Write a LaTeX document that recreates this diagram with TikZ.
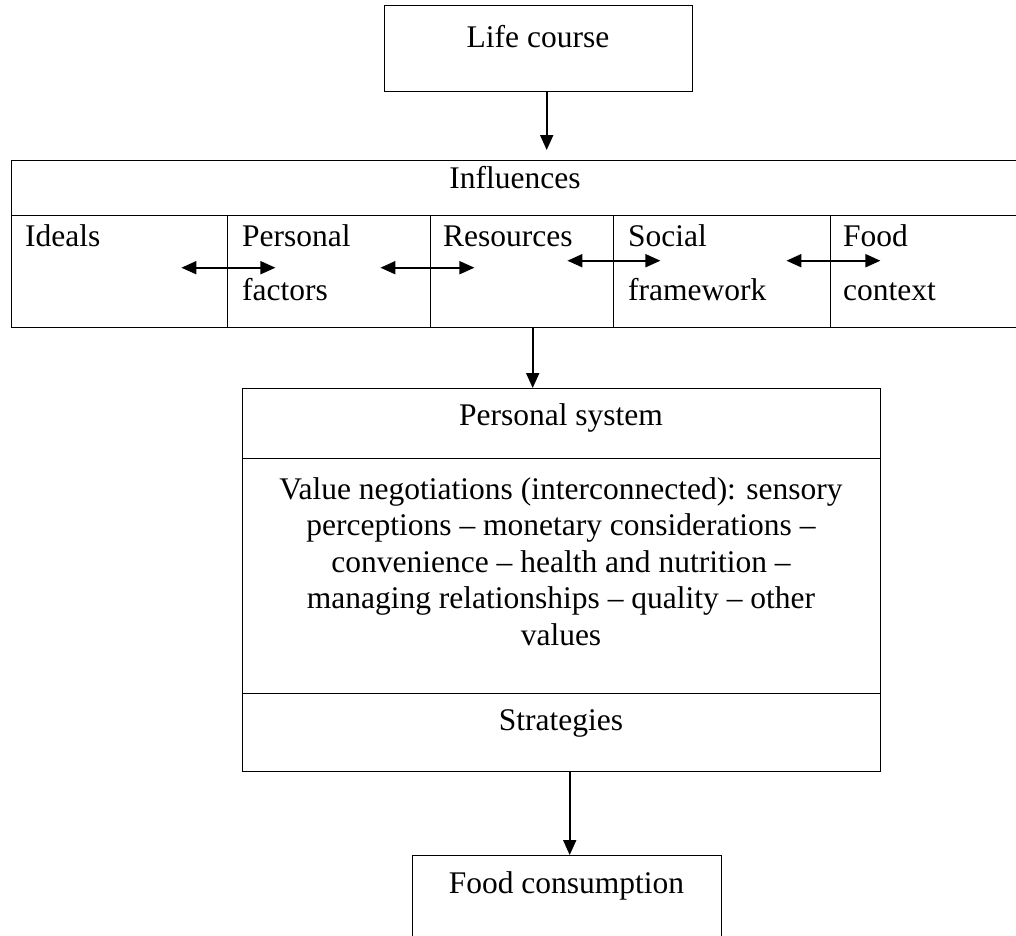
\documentclass[tikz,border=0pt]{standalone}
\usepackage{fontspec}
\setmainfont{Liberation Serif}
\usetikzlibrary{arrows.meta,calc}
\begin{document}
\begin{tikzpicture}[x=1pt,y=-1pt,
  box/.style={draw,line width=1.4pt,rectangle,inner sep=0pt,anchor=north west},
  lbl/.style={inner sep=0pt,font=\fontsize{31.5}{36.5}\selectfont},
  arr/.style={line width=1.9pt,-{Triangle[length=15pt,width=13pt]}},
  darr/.style={line width=1.9pt,{Triangle[length=15pt,width=13pt]}-{Triangle[length=15pt,width=13pt]}}]
\useasboundingbox[fill=white] (0,0) rectangle (1016,935);

% Life course
\node[box,minimum width=308pt,minimum height=86pt] (life) at (384,5) {};
\node[lbl,anchor=base] (tlife) at (538,47) {Life course};

% Influences
\node[box,minimum width=1010pt,minimum height=55pt] (infhead) at (11,160) {};
\node[box,minimum width=216pt,minimum height=112pt] (c1) at (11,215) {};
\node[box,minimum width=203pt,minimum height=112pt] (c2) at (227,215) {};
\node[box,minimum width=183pt,minimum height=112pt] (c3) at (430,215) {};
\node[box,minimum width=217pt,minimum height=112pt] (c4) at (613,215) {};
\node[box,minimum width=190pt,minimum height=112pt] (c5) at (830,215) {};
\node[lbl,anchor=base] (tinf) at (515,188) {Influences};
\node[lbl,anchor=base west] (tideals) at (25,246) {Ideals};
\node[lbl,anchor=base west] (tpers) at (242,246) {Personal};
\node[lbl,anchor=base west] (tfact) at (242,300) {factors};
\node[lbl,anchor=base west] (tres) at (443,246) {Resources};
\node[lbl,anchor=base west] (tsoc) at (628,246) {Social};
\node[lbl,anchor=base west] (tframe) at (628,300) {framework};
\node[lbl,anchor=base west] (tfood) at (843,246) {Food};
\node[lbl,anchor=base west] (tctx) at (843,300) {context};

% Personal system
\node[box,minimum width=638pt,minimum height=70pt] (ps1) at (242,388) {};
\node[box,minimum width=638pt,minimum height=235pt] (ps2) at (242,458) {};
\node[box,minimum width=638pt,minimum height=78pt] (ps3) at (242,693) {};
\node[lbl,anchor=base] (tps) at (561,425) {Personal system};
\node[lbl,anchor=base,align=center] (tval) at (561,645) {Value negotiations (interconnected): sensory\\
perceptions \textendash{} monetary considerations \textendash\\
convenience \textendash{} health and nutrition \textendash\\
managing relationships \textendash{} quality \textendash{} other\\
values};
\node[lbl,anchor=base] (tstr) at (561,730) {Strategies};

% Food consumption
\node[box,minimum width=309pt,minimum height=100pt] (food) at (412,855) {};
\node[lbl,anchor=base] (tfc) at (566.5,893) {Food consumption};

% Connectors
\draw[arr,shorten >=10pt] ([xshift=8pt]life.south) -- ([xshift=8pt]life.south |- infhead.north);
\draw[arr] ([xshift=10.5pt]c3.south) -- ([xshift=10.5pt]c3.south |- ps1.north);
\draw[arr] ([xshift=8pt]ps3.south) -- ([xshift=8pt]ps3.south |- food.north);

\draw[darr] ([xshift=-47pt,yshift=4pt]c1.east) -- ([xshift=47pt,yshift=4pt]c1.east);
\draw[darr] ([xshift=-51pt,yshift=4pt]c2.east) -- ([xshift=43pt,yshift=4pt]c2.east);
\draw[darr] ([xshift=-47pt,yshift=11pt]c3.east) -- ([xshift=46pt,yshift=11pt]c3.east);
\draw[darr] ([xshift=-45pt,yshift=11pt]c4.east) -- ([xshift=49pt,yshift=11pt]c4.east);
\end{tikzpicture}
\end{document}
